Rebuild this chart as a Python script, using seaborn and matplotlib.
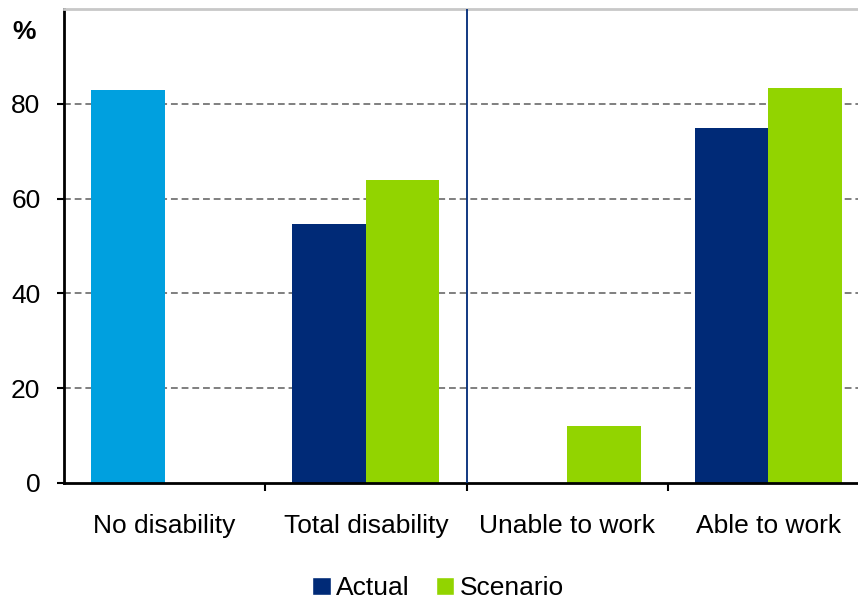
import numpy as np
import pandas as pd
import matplotlib
matplotlib.use("Agg")
import matplotlib.pyplot as plt
from matplotlib.patches import Patch
import seaborn as sns

categories = ["No disability", "Total disability", "Unable to work", "Able to work"]
actual = [82.9, 54.6, np.nan, 74.9]
scenario = [np.nan, 64.0, 12.0, 83.4]
series = ["Actual", "Scenario"]

NAVY = "#002A77"
GREEN = "#92D400"
LIGHT_BLUE = "#00A0DF"

df = pd.DataFrame({
    "category": categories * 2,
    "value": actual + scenario,
    "series": ["Actual"] * 4 + ["Scenario"] * 4,
})

sns.set_style("white")
plt.rcParams["font.family"] = ["Liberation Sans", "DejaVu Sans"]
plt.rcParams["text.color"] = "black"

fig = plt.figure(figsize=(8.58, 6), dpi=100)
ax = fig.add_axes([64 / 858, 117 / 600, 805 / 858, 474 / 600])

sns.barplot(data=df, x="category", y="value", hue="series", order=categories,
            hue_order=series, palette=[NAVY, GREEN], width=0.73, gap=0,
            saturation=1, legend=False, edgecolor="none", linewidth=0, ax=ax)

# first bar (no disability) drawn in light blue
ax.patches[0].set_facecolor(LIGHT_BLUE)

ax.set_ylim(0, 100)
ax.set_xlim(-0.5, 3.5)
ax.set_yticks([0, 20, 40, 60, 80])
ax.set_xticks(range(4))
ax.set_xticks([0.5, 1.5, 2.5], minor=True)
ax.tick_params(axis="x", which="major", length=0, pad=22, labelsize=19, labelcolor="black")
ax.tick_params(axis="x", which="minor", bottom=True, length=6, width=1.5, color="black",
               direction="out")
ax.tick_params(axis="y", left=True, length=5, width=1.5, color="black", direction="out",
               labelsize=19, labelcolor="black", pad=12)
ax.set_xlabel("")
ax.set_ylabel("")

for y in [20, 40, 60, 80]:
    ax.axhline(y, color="#7F7F7F", linestyle=(0, (3.5, 2)), linewidth=1.4, zorder=0)

ax.axvline(1.5, color=NAVY, linewidth=1.3, zorder=3)

for side in ["left", "bottom"]:
    ax.spines[side].set_color("black")
    ax.spines[side].set_linewidth(2)
ax.spines["top"].set_color("#C8C8C8")
ax.spines["top"].set_linewidth(2)
ax.spines["right"].set_visible(False)

fig.text(12 / 858, 1 - 32 / 600, "%", fontsize=19, fontweight="bold", va="center", ha="left")

handles = [Patch(facecolor=NAVY, label="Actual"), Patch(facecolor=GREEN, label="Scenario")]
fig.legend(handles=handles, loc="center", bbox_to_anchor=(438 / 858, 1 - 588 / 600), ncol=2,
           frameon=False, fontsize=19, handlelength=0.7, handleheight=0.7,
           handletextpad=0.2, columnspacing=1.0)

fig.savefig("out.png", dpi=100)
